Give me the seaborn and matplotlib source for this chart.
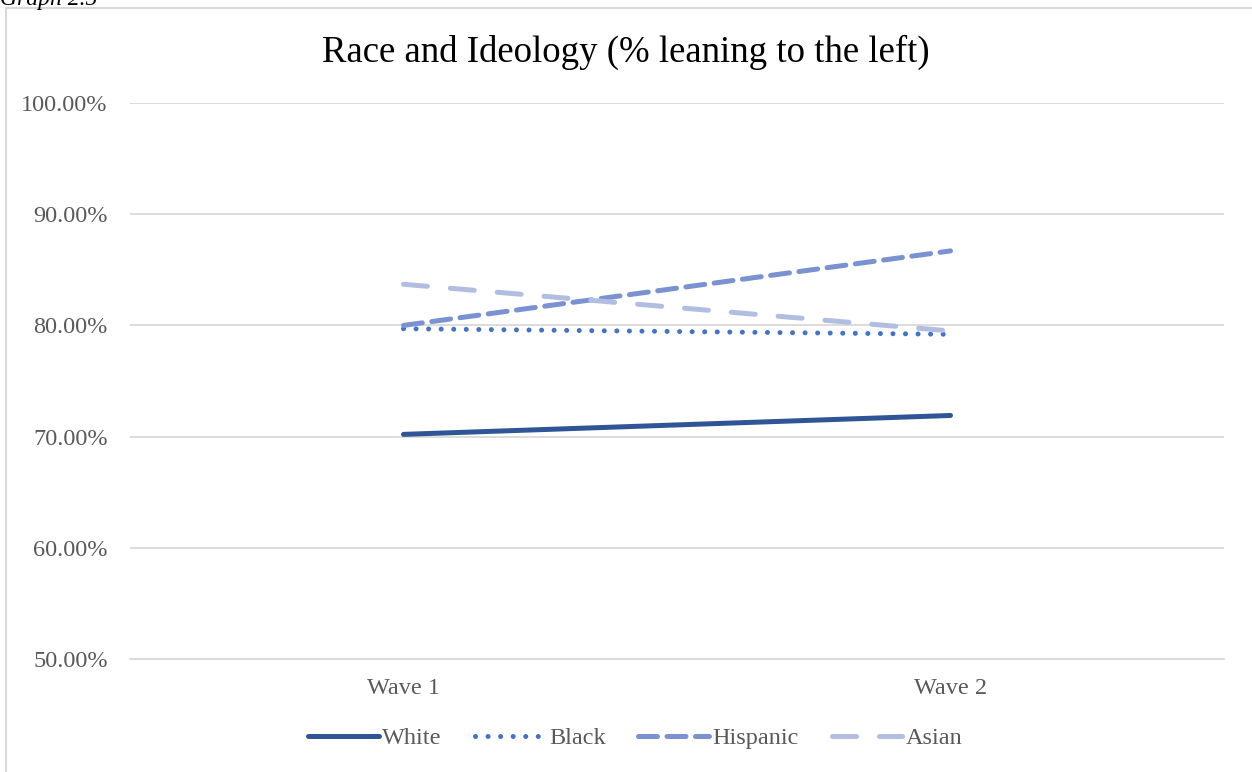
import matplotlib
matplotlib.use("Agg")
import matplotlib.pyplot as plt
import seaborn as sns
import pandas as pd
from matplotlib.patches import Rectangle
from matplotlib.ticker import FuncFormatter

waves = ["Wave 1", "Wave 2"]
races = ["White", "Black", "Hispanic", "Asian"]
white = [70.2, 71.9]
black = [79.7, 79.2]
hispanic = [80.0, 86.7]
asian = [83.7, 79.5]
yticks = [50, 60, 70, 80, 90, 100]

colors = {"White": "#2F5597", "Black": "#4472C4", "Hispanic": "#7A92D2", "Asian": "#B1BEE2"}
dash_styles = {"White": "", "Black": (0.01, 2.5), "Hispanic": (3.8, 1.9), "Asian": (4.8, 4.6)}

rows = []
for race, vals in zip(races, [white, black, hispanic, asian]):
    for w, v in zip(waves, vals):
        rows.append({"Wave": w, "Race": race, "Value": v})
df = pd.DataFrame(rows)

sns.set_theme(style="white")
plt.rcParams["font.family"] = ["Liberation Serif", "DejaVu Serif"]

fig = plt.figure(figsize=(12.52, 7.72), dpi=100)
ax = fig.add_axes([130/1252, 1-659/772, (1224-130)/1252, (659-103)/772])

sns.lineplot(data=df, x="Wave", y="Value", hue="Race", style="Race",
             hue_order=races, style_order=races, palette=colors, dashes=dash_styles,
             linewidth=3.6, sort=False, ax=ax, legend=True,
             dash_capstyle="round", solid_capstyle="round")

ax.set_xlim(-0.5, 1.5)
ax.set_ylim(50, 100)
ax.set_yticks(yticks)
ax.yaxis.set_major_formatter(FuncFormatter(lambda v, p: f"{v:.2f}%"))
ax.grid(axis="y", color="#D9D9D9", linewidth=1.3)
ax.grid(axis="x", visible=False)
for s in ax.spines.values():
    s.set_visible(False)
ax.spines["bottom"].set_visible(True)
ax.spines["bottom"].set_color("#D9D9D9")
ax.spines["bottom"].set_linewidth(1.3)
ax.tick_params(axis="both", length=0, labelsize=17.5, labelcolor="#595959")
ax.tick_params(axis="y", pad=16)
ax.tick_params(axis="x", pad=14)
ax.set_xlabel("")
ax.set_ylabel("")
ax.set_axisbelow(True)

leg = ax.legend(loc="center", bbox_to_anchor=(0.462, (1-738/772 - (1-659/772)) / ((659-103)/772)),
                ncol=4, frameon=False,
                fontsize=17.5, handlelength=2.9, columnspacing=1.35, handletextpad=0.15,
                labelcolor="#595959")
for line in leg.get_lines():
    line.set_linewidth(3.6)

fig.text(0.5, 1-52/772, "Race and Ideology (% leaning to the left)", ha="center", va="center",
         fontsize=26.5, color="black")
fig.text(0.0, 1.0, "Graph 2.5", ha="left", va="center", fontsize=17, style="italic", color="black")

fig.patches.append(Rectangle((6/1252, -0.1), 1.2, 1 - 8/772 + 0.1, transform=fig.transFigure,
                             fill=False, edgecolor="#D9D9D9", linewidth=1.5, zorder=-1))

fig.savefig("out.png", dpi=100, facecolor="white")
